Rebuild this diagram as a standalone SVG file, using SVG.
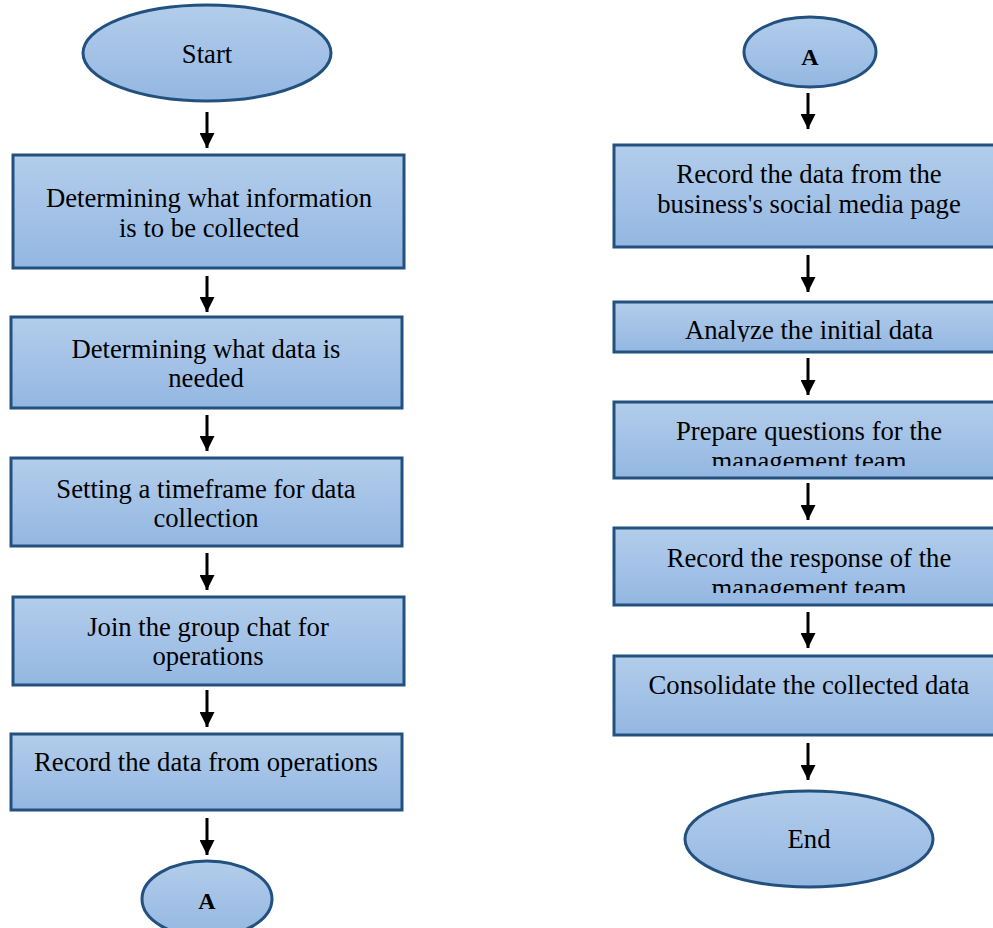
<svg xmlns="http://www.w3.org/2000/svg" width="993" height="928" viewBox="0 0 993 928">
<defs>
<linearGradient id="g" x1="0" y1="0" x2="0" y2="1">
<stop offset="0" stop-color="#b3cdeb"/>
<stop offset="1" stop-color="#93b7e2"/>
</linearGradient>
<marker id="ah" markerWidth="5" markerHeight="5" refX="5" refY="2.5" orient="auto" markerUnits="strokeWidth">
<path d="M0,0 L5,2.5 L0,5 Z" fill="#000"/>
</marker>
<clipPath id="c1"><rect x="614" y="302" width="390" height="40"/></clipPath>
<clipPath id="c2"><rect x="614" y="402" width="390" height="64"/></clipPath>
<clipPath id="c3"><rect x="614" y="528" width="390" height="65"/></clipPath>
</defs>
<style>
.n{fill:url(#g);stroke:#22507f;stroke-width:3}
.t{font-family:"Liberation Serif","Times New Roman",serif;font-size:26.7px;fill:#000;text-anchor:middle}
.b{font-weight:bold;font-size:24px}
.c line{stroke:#000;stroke-width:3;marker-end:url(#ah)}
</style>
<rect width="993" height="928" fill="#fff"/>
<g id="start"><ellipse class="n" cx="207" cy="53" rx="124" ry="48"/><text class="t" x="207" y="63">Start</text></g>
<g id="n1"><rect class="n" x="13" y="155" width="391" height="113"/><text class="t" x="209" y="207">Determining what information</text><text class="t" x="209" y="237">is to be collected</text></g>
<g id="n2"><rect class="n" x="11" y="317" width="391" height="91"/><text class="t" x="206" y="358">Determining what data is</text><text class="t" x="206" y="387">needed</text></g>
<g id="n3"><rect class="n" x="11" y="458" width="391" height="88"/><text class="t" x="206" y="498">Setting a timeframe for data</text><text class="t" x="206" y="527">collection</text></g>
<g id="n4"><rect class="n" x="13" y="597" width="391" height="88"/><text class="t" x="208" y="636">Join the group chat for</text><text class="t" x="208" y="665">operations</text></g>
<g id="n5"><rect class="n" x="11" y="734" width="391" height="76"/><text class="t" x="206" y="771">Record the data from operations</text></g>
<g id="a1"><ellipse class="n" cx="207" cy="899" rx="65" ry="38"/><text class="t b" x="207" y="909">A</text></g>
<g id="a2"><ellipse class="n" cx="810" cy="52" rx="66" ry="35"/><text class="t b" x="810" y="65">A</text></g>
<g id="m1"><rect class="n" x="614" y="145" width="390" height="102"/><text class="t" x="809" y="183">Record the data from the</text><text class="t" x="809" y="213">business's social media page</text></g>
<g id="m2"><rect class="n" x="614" y="302" width="390" height="50"/><text class="t" x="809" y="339" clip-path="url(#c1)">Analyze the initial data</text></g>
<g id="m3"><rect class="n" x="614" y="402" width="390" height="76"/><g clip-path="url(#c2)"><text class="t" x="809" y="440">Prepare questions for the</text><text class="t" x="809" y="470">management team</text></g></g>
<g id="m4"><rect class="n" x="614" y="528" width="390" height="77"/><g clip-path="url(#c3)"><text class="t" x="809" y="567">Record the response of the</text><text class="t" x="809" y="597">management team</text></g></g>
<g id="m5"><rect class="n" x="614" y="656" width="390" height="79"/><text class="t" x="809" y="694">Consolidate the collected data</text></g>
<g id="end"><ellipse class="n" cx="809" cy="839" rx="124" ry="48"/><text class="t" x="809" y="848">End</text></g>
<g id="connectors" class="c">
<line x1="207" y1="112" x2="207" y2="148"/>
<line x1="207" y1="276" x2="207" y2="312"/>
<line x1="207" y1="415" x2="207" y2="451"/>
<line x1="207" y1="553" x2="207" y2="590"/>
<line x1="207" y1="690" x2="207" y2="727"/>
<line x1="207" y1="818" x2="207" y2="855"/>
<line x1="808" y1="93" x2="808" y2="129"/>
<line x1="808" y1="255" x2="808" y2="292"/>
<line x1="808" y1="358" x2="808" y2="395"/>
<line x1="808" y1="483" x2="808" y2="520"/>
<line x1="808" y1="612" x2="808" y2="648"/>
<line x1="808" y1="743" x2="808" y2="780"/>
</g>
</svg>
